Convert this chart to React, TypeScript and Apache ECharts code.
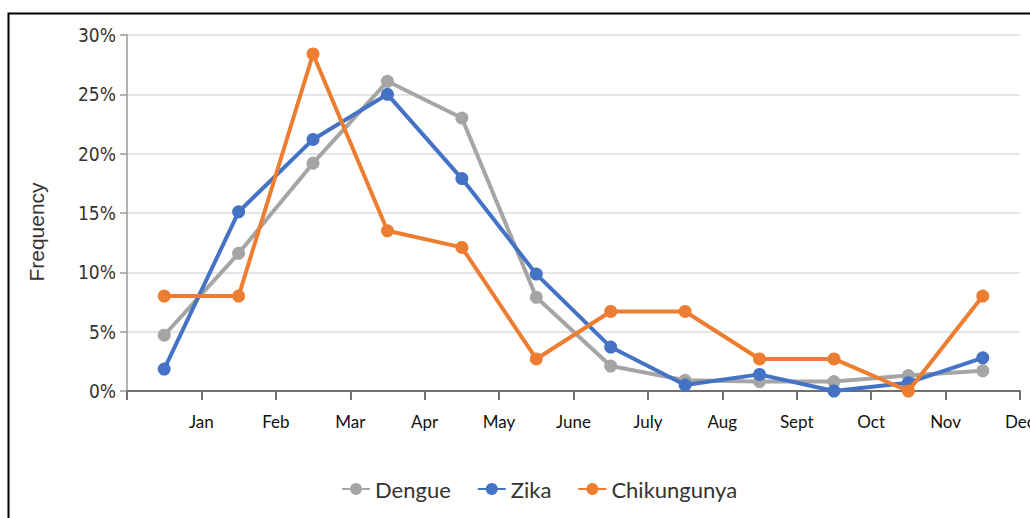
import React, { useEffect, useRef } from "react";
import * as echarts from "echarts";

const months = ["", "Jan", "Feb", "Mar", "Apr", "May", "June", "July", "Aug", "Sept", "Oct", "Nov", "Dec"];
const dengue = [4.7, 11.6, 19.2, 26.1, 23.0, 7.9, 2.1, 0.9, 0.8, 0.8, 1.3, 1.7];
const zika = [1.85, 15.1, 21.2, 25.0, 17.9, 9.85, 3.7, 0.5, 1.4, 0.0, 0.7, 2.8];
const chikungunya = [8.0, 8.0, 28.4, 13.5, 12.1, 2.7, 6.7, 6.7, 2.7, 2.7, 0.0, 8.0];
const seriesNames = ["Dengue", "Zika", "Chikungunya"];
const colors = ["#A5A5A5", "#4472C4", "#ED7D31"];

const toPoints = (arr: number[]) => arr.map((v, i) => [i + 0.5, v]);

export default function App() {
  const ref = useRef<HTMLDivElement>(null);
  useEffect(() => {
    if (!ref.current) return;
    const chart = echarts.init(ref.current, undefined, { renderer: "svg" });
    const data = [dengue, zika, chikungunya];
    chart.setOption({
      animation: false,
      backgroundColor: "#ffffff",
      color: colors,
      grid: { left: 127, right: 10, top: 35, bottom: 127, containLabel: false, outerBoundsMode: "none" },
      legend: {
        bottom: 13,
        left: 336,
        itemWidth: 28,
        itemHeight: 15,
        itemGap: 26,
        textStyle: { fontFamily: "Lato", fontSize: 22, color: "#333" },
        data: seriesNames,
      },
      xAxis: {
        type: "value",
        min: 0,
        max: 12,
        interval: 1,
        axisLine: { show: true, lineStyle: { color: "#707070", width: 2 } },
        axisTick: { show: true, length: 9, lineStyle: { color: "#707070", width: 2 } },
        axisLabel: {
          margin: 22,
          fontFamily: "Lato",
          fontSize: 17,
          color: "#111",
          showMinLabel: true,
          showMaxLabel: true,
          formatter: (v: number) => months[Math.round(v)] ?? "",
        },
        splitLine: { show: false },
      },
      yAxis: {
        type: "value",
        min: 0,
        max: 30,
        interval: 5,
        axisLine: { show: true, lineStyle: { color: "#9a9a9a", width: 1.5 } },
        axisTick: { show: true, length: 7, lineStyle: { color: "#9a9a9a", width: 1.5 } },
        axisLabel: {
          margin: 11,
          fontFamily: "'Liberation Sans Narrow', 'DejaVu Sans Condensed', sans-serif",
          fontSize: 19,
          color: "#333",
          formatter: "{value}%",
        },
        splitLine: { show: true, lineStyle: { color: "#dcdcdc", width: 1.5 } },
      },
      graphic: [
        {
          type: "rect",
          shape: { x: 8.5, y: 13.5, width: 1100, height: 600 },
          style: { fill: "none", stroke: "#000", lineWidth: 2 },
          silent: true,
        },
        {
          type: "text",
          x: 36,
          y: 232,
          rotation: Math.PI / 2,
          style: {
            text: "Frequency",
            fontFamily: "'Liberation Sans', sans-serif",
            fontSize: 21,
            fill: "#333",
            align: "center",
            verticalAlign: "middle",
          },
        },
      ],
      series: seriesNames.map((name, k) => ({
        name,
        type: "line",
        data: toPoints(data[k]),
        symbol: "circle",
        symbolSize: 13,
        lineStyle: { width: 4, color: colors[k] },
        itemStyle: { color: colors[k] },
        z: 2 + k,
      })),
    });
    return () => chart.dispose();
  }, []);
  return (
    <div
      ref={ref}
      style={{ position: "fixed", left: 0, top: 0, width: 1030, height: 518 }}
    />
  );
}
